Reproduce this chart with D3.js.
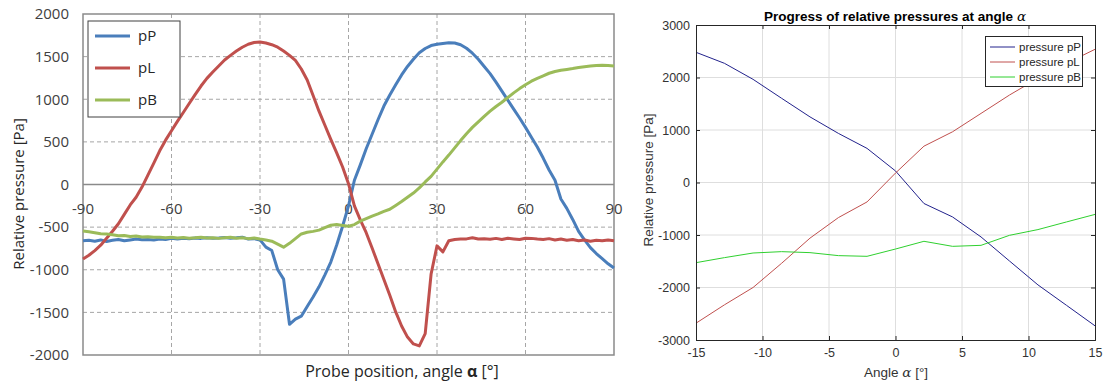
<!DOCTYPE html>
<html>
<head>
<meta charset="utf-8">
<script src="https://cdn.jsdelivr.net/npm/d3@7"></script>
<style>
  body { margin: 0; background: #fff; }
  svg { display: block; }
</style>
</head>
<body>
<svg id="chart" width="1104" height="385"></svg>
<script>
// ---- left chart (probe sweep, -90..90 deg) ----
const probeAngles = [-90,-88,-86,-84,-82,-80,-78,-76,-74,-72,-70,-68,-66,-64,-62,-60,-58,-56,-54,-52,-50,-48,-46,-44,-42,-40,-38,-36,-34,-32,-30,-28,-26,-24,-22,-20,-18,-16,-14,-12,-10,-8,-6,-4,-2,0,2,4,6,8,10,12,14,16,18,20,22,24,26,28,30,32,34,36,38,40,42,44,46,48,50,52,54,56,58,60,62,64,66,68,70,72,74,76,78,80,82,84,86,88,90];

const probePP = [-660,-655,-665,-650,-668,-655,-645,-660,-650,-640,-648,-645,-652,-640,-645,-632,-638,-630,-635,-628,-632,-625,-630,-628,-622,-630,-625,-618,-640,-635,-650,-735,-775,-1000,-1110,-1640,-1580,-1545,-1430,-1320,-1200,-1060,-910,-710,-490,-250,50,230,420,590,760,920,1050,1170,1285,1385,1470,1545,1595,1630,1645,1655,1662,1660,1640,1598,1540,1470,1385,1300,1200,1095,990,885,780,670,555,440,310,170,50,-170,-280,-410,-550,-650,-740,-810,-870,-930,-980];

const probePL = [-874,-830,-775,-712,-630,-548,-460,-350,-240,-150,-30,110,250,395,520,630,740,845,950,1055,1155,1245,1320,1390,1460,1515,1565,1610,1645,1665,1672,1660,1640,1610,1565,1515,1455,1355,1225,1045,860,695,530,370,205,10,-250,-415,-565,-745,-930,-1115,-1300,-1495,-1660,-1790,-1870,-1893,-1750,-1050,-720,-790,-660,-645,-640,-638,-625,-640,-635,-642,-632,-645,-630,-638,-645,-630,-632,-640,-645,-635,-650,-640,-655,-645,-660,-650,-665,-655,-660,-650,-660];

const probePB = [-545,-555,-565,-578,-582,-590,-600,-598,-610,-605,-615,-612,-620,-618,-625,-620,-628,-622,-630,-625,-618,-628,-624,-632,-626,-620,-630,-625,-635,-628,-640,-650,-665,-700,-735,-690,-635,-580,-560,-550,-535,-505,-478,-470,-480,-490,-470,-430,-400,-370,-345,-315,-290,-245,-200,-150,-100,-40,30,95,180,265,345,430,515,596,670,735,800,860,915,965,1020,1075,1125,1170,1212,1245,1275,1305,1325,1340,1350,1360,1372,1382,1390,1396,1400,1396,1390];

const leftNames = ["pP", "pL", "pB"];
const leftColors = ["#4a7ebb", "#c0504d", "#9bbb59"];
const leftXTicks = [-90, -60, -30, 0, 30, 60, 90];
const leftYTicks = [2000, 1500, 1000, 500, 0, -500, -1000, -1500, -2000];

// ---- right chart (simulation, -15..15 deg) ----
const simAngles = [-15,-12.86,-10.71,-8.57,-6.43,-4.29,-2.14,0,2.14,4.29,6.43,8.57,10.71,12.86,15];
const simPP = [2480,2270,1965,1605,1250,935,650,220,-400,-656,-1037,-1495,-1950,-2340,-2730];
const simPL = [-2680,-2330,-2000,-1540,-1060,-668,-370,180,692,966,1316,1666,1984,2270,2537];
const simPB = [-1527,-1431,-1343,-1317,-1336,-1393,-1406,-1267,-1120,-1216,-1197,-1006,-897,-751,-608];

const rightNames = ["pressure pP", "pressure pL", "pressure pB"];
const rightColors = ["#22228c", "#c0504e", "#2fd02f"];
const rightXTicks = [-15, -10, -5, 0, 5, 10, 15];
const rightYTicks = [3000, 2000, 1000, 0, -1000, -2000, -3000];

const svg = d3.select("#chart");

// ================= LEFT =================
(function () {
  const x = d3.scaleLinear().domain([-90, 90]).range([83, 614]);
  const y = d3.scaleLinear().domain([-2000, 2000]).range([355, 14]);
  const g = svg.append("g");
  const font = "'Open Sans', sans-serif";

  // dashed grid
  g.selectAll(".hg").data(leftYTicks.filter(d => d !== 0 && Math.abs(d) !== 2000))
    .enter().append("line")
    .attr("x1", x(-90)).attr("x2", x(90))
    .attr("y1", d => y(d)).attr("y2", d => y(d))
    .attr("stroke", "#a6a6a6").attr("stroke-dasharray", "4,3");
  g.selectAll(".vg").data(leftXTicks.filter(d => Math.abs(d) !== 90))
    .enter().append("line")
    .attr("x1", d => x(d)).attr("x2", d => x(d))
    .attr("y1", y(2000)).attr("y2", y(-2000))
    .attr("stroke", "#a6a6a6").attr("stroke-dasharray", "4,3");

  // frame and zero line
  g.append("rect")
    .attr("x", x(-90)).attr("y", y(2000))
    .attr("width", x(90) - x(-90)).attr("height", y(-2000) - y(2000))
    .attr("fill", "none").attr("stroke", "#8a8a8a").attr("stroke-width", 1.5);
  g.append("line")
    .attr("x1", x(-90)).attr("x2", x(90)).attr("y1", y(0)).attr("y2", y(0))
    .attr("stroke", "#8a8a8a").attr("stroke-width", 1.5);

  // y tick labels
  g.selectAll(".yt").data(leftYTicks).enter().append("text")
    .attr("x", 69).attr("y", d => y(d))
    .attr("dy", "0.35em").attr("text-anchor", "end")
    .attr("font-family", font).attr("font-size", 15).attr("fill", "#404040")
    .text(d => String(d));

  // x tick labels under the zero line
  g.selectAll(".xt").data(leftXTicks).enter().append("text")
    .attr("x", d => x(d)).attr("y", y(0) + 24)
    .attr("dy", "0.35em").attr("text-anchor", "middle")
    .attr("font-family", font).attr("font-size", 15).attr("fill", "#404040")
    .text(d => String(d));

  // series
  const series = [probePP, probePL, probePB];
  const line = d3.line().x((d, i) => x(probeAngles[i])).y(d => y(d));
  series.forEach((vals, k) => {
    g.append("path").datum(vals)
      .attr("d", line)
      .attr("fill", "none").attr("stroke", leftColors[k])
      .attr("stroke-width", 3).attr("stroke-linejoin", "round");
  });

  // legend
  const lg = g.append("g");
  lg.append("rect").attr("x", 88).attr("y", 21).attr("width", 92).attr("height", 96)
    .attr("fill", "#fff").attr("stroke", "#404040").attr("stroke-width", 1);
  leftNames.forEach((n, k) => {
    const yy = 36 + k * 32;
    lg.append("line").attr("x1", 95).attr("x2", 130).attr("y1", yy).attr("y2", yy)
      .attr("stroke", leftColors[k]).attr("stroke-width", 3);
    lg.append("text").attr("x", 138).attr("y", yy).attr("dy", "0.35em")
      .attr("font-family", font).attr("font-size", 15).attr("fill", "#262626")
      .text(n);
  });

  // axis titles
  g.append("text")
    .attr("transform", "translate(19," + 194 + ") rotate(-90)")
    .attr("text-anchor", "middle")
    .attr("dy", "0.35em")
    .attr("font-family", font).attr("font-size", 15).attr("fill", "#262626")
    .text("Relative pressure [Pa]");
  const xt = g.append("text")
    .attr("x", 402).attr("y", 371).attr("dy", "0.35em")
    .attr("text-anchor", "middle")
    .attr("font-family", font).attr("font-size", 16).attr("fill", "#262626");
  xt.append("tspan").text("Probe position, angle ");
  xt.append("tspan").attr("font-weight", "bold").text("α");
  xt.append("tspan").text(" [°]");
})();

// ================= RIGHT =================
(function () {
  const x = d3.scaleLinear().domain([-15, 15]).range([696, 1095]);
  const y = d3.scaleLinear().domain([-3000, 3000]).range([340, 25]);
  const g = svg.append("g");
  const font = "'Liberation Sans', Arial, sans-serif";
  const axisCol = "#262626";

  // grid
  g.selectAll(".hg").data(rightYTicks.slice(1, -1)).enter().append("line")
    .attr("x1", x(-15)).attr("x2", x(15))
    .attr("y1", d => y(d)).attr("y2", d => y(d))
    .attr("stroke", "#dedede");
  g.selectAll(".vg").data(rightXTicks.slice(1, -1)).enter().append("line")
    .attr("x1", d => x(d)).attr("x2", d => x(d))
    .attr("y1", y(3000)).attr("y2", y(-3000))
    .attr("stroke", "#dedede");

  // series
  const series = [simPP, simPL, simPB];
  const line = d3.line().x((d, i) => x(simAngles[i])).y(d => y(d));
  series.forEach((vals, k) => {
    g.append("path").datum(vals)
      .attr("d", line)
      .attr("fill", "none").attr("stroke", rightColors[k])
      .attr("stroke-width", 1);
  });

  // axes with inward ticks on all sides
  const ax = [
    [d3.axisBottom(x).tickValues(rightXTicks).tickSize(-4).tickPadding(8), "translate(0," + y(-3000) + ")", true],
    [d3.axisTop(x).tickValues(rightXTicks).tickSize(-4), "translate(0," + y(3000) + ")", false],
    [d3.axisLeft(y).tickValues(rightYTicks).tickSize(-4).tickPadding(6), "translate(" + x(-15) + ",0)", true],
    [d3.axisRight(y).tickValues(rightYTicks).tickSize(-4), "translate(" + x(15) + ",0)", false]
  ];
  ax.forEach(([a, tr, labels]) => {
    const ag = g.append("g").attr("transform", tr)
      .call(a.tickFormat(d => labels ? String(d) : ""));
    ag.select(".domain").attr("stroke", axisCol).attr("stroke-width", 1);
    ag.selectAll(".tick line").attr("stroke", axisCol);
    ag.selectAll("text").attr("font-family", font).attr("font-size", 12.5).attr("fill", "#333");
  });

  // title
  const t = g.append("text")
    .attr("x", 895).attr("y", 16).attr("dy", "0.35em")
    .attr("text-anchor", "middle")
    .attr("font-family", font).attr("font-size", 13.5).attr("font-weight", "bold").attr("fill", "#000");
  t.append("tspan").text("Progress of relative pressures at angle ");
  t.append("tspan").attr("font-family", "'DejaVu Serif', serif").attr("font-style", "italic").attr("font-weight", "normal").text("α");

  // axis labels
  g.append("text")
    .attr("transform", "translate(648,180) rotate(-90)")
    .attr("text-anchor", "middle").attr("dy", "0.35em")
    .attr("font-family", font).attr("font-size", 13.5).attr("fill", "#333")
    .text("Relative pressure [Pa]");
  const xl = g.append("text")
    .attr("x", 896).attr("y", 372).attr("dy", "0.35em")
    .attr("text-anchor", "middle")
    .attr("font-family", font).attr("font-size", 13.5).attr("fill", "#333");
  xl.append("tspan").text("Angle ");
  xl.append("tspan").attr("font-family", "'DejaVu Serif', serif").attr("font-style", "italic").text("α");
  xl.append("tspan").text("  [°]");

  // legend
  const lg = g.append("g");
  lg.append("rect").attr("x", 985.5).attr("y", 36.5).attr("width", 97).attr("height", 50)
    .attr("fill", "#fff").attr("stroke", axisCol).attr("stroke-width", 1);
  rightNames.forEach((n, k) => {
    const yy = 47 + k * 15;
    lg.append("line").attr("x1", 990).attr("x2", 1015).attr("y1", yy).attr("y2", yy)
      .attr("stroke", rightColors[k]).attr("stroke-width", 1);
    lg.append("text").attr("x", 1019).attr("y", yy).attr("dy", "0.35em")
      .attr("font-family", font).attr("font-size", 11.5).attr("fill", axisCol)
      .text(n);
  });
})();
</script>
</body>
</html>
